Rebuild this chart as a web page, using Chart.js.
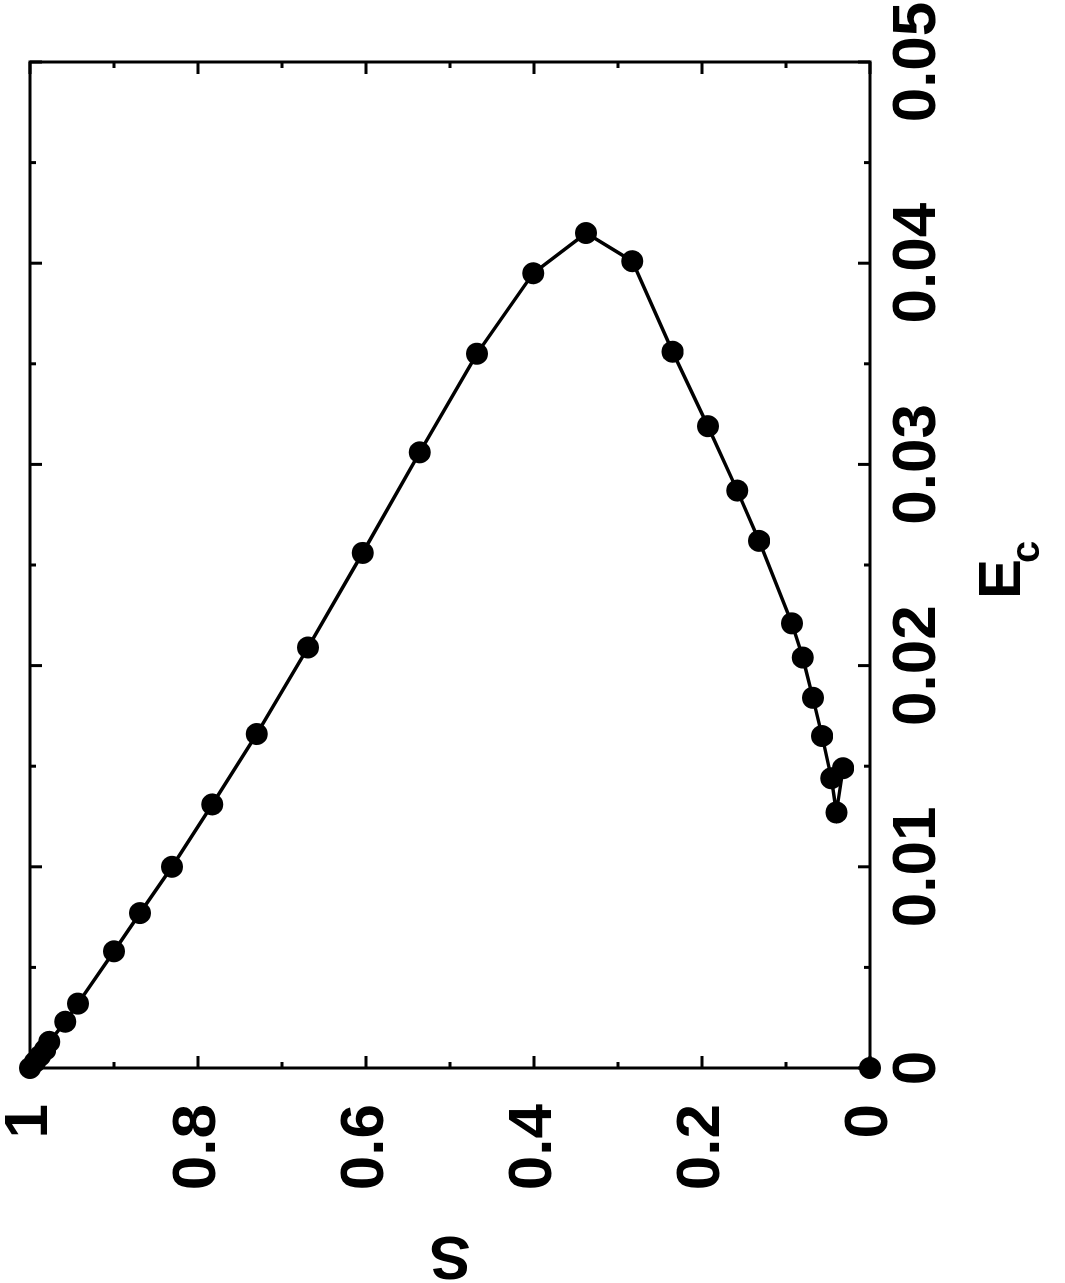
<!DOCTYPE html>
<html>
<head>
<meta charset="utf-8">
<title>S vs Ec</title>
<script src="https://cdn.jsdelivr.net/npm/chart.js@4.4.1/dist/chart.umd.min.js"></script>
<style>
  html, body { margin: 0; padding: 0; background: #fff; overflow: hidden; }
  /* the plot is drawn upright and then turned a quarter turn to the left */
  #wrap {
    position: absolute; left: 0; top: 0;
    width: 1283px; height: 1065px;
    transform-origin: 0 0;
    transform: translateY(1283px) rotate(-90deg);
  }
</style>
</head>
<body>
<div id="wrap"><canvas id="sChart" width="1283" height="1065"></canvas></div>
<script>
// data: Ec on the x axis, S on the y axis
const ecValues = [0.0000, 0.0003, 0.0006, 0.0009, 0.0013, 0.0023, 0.0032, 0.0058, 0.0077, 0.0100,
                  0.0131, 0.0166, 0.0209, 0.0256, 0.0306, 0.0355, 0.0395, 0.0415, 0.0401, 0.0356,
                  0.0319, 0.0287, 0.0262, 0.0221, 0.0204, 0.0184, 0.0165, 0.0144, 0.0127, 0.0149];
const sValues = [1.000, 0.994, 0.988, 0.982, 0.977, 0.958, 0.943, 0.900, 0.869, 0.831,
                 0.783, 0.730, 0.669, 0.604, 0.536, 0.468, 0.401, 0.338, 0.283, 0.235,
                 0.193, 0.158, 0.132, 0.093, 0.080, 0.068, 0.057, 0.046, 0.040, 0.032];

// lone point at the origin (not joined to the curve)
const originEc = [0];
const originS = [0];

// ticks
const ecTicks = [0, 0.01, 0.02, 0.03, 0.04, 0.05];
const ecTickLabels = ["0", "0.01", "0.02", "0.03", "0.04", "0.05"];
const ecMinorTicks = [0.005, 0.015, 0.025, 0.035, 0.045];
const sTicks = [0, 0.2, 0.4, 0.6, 0.8, 1];
const sTickLabels = ["0", "0.2", "0.4", "0.6", "0.8", "1"];
const sMinorTicks = [0.1, 0.3, 0.5, 0.7, 0.9];

const FONT = '"Liberation Sans Narrow", "Liberation Sans", Arial, sans-serif';

// gnuplot style box with inward ticks, plus the axis titles
const framePlugin = {
  id: "gnuplotFrame",
  afterDatasetsDraw(chart) {
    const ctx = chart.ctx;
    const a = chart.chartArea;
    const xs = chart.scales.x;
    const ys = chart.scales.y;
    ctx.save();
    ctx.strokeStyle = "#000";
    ctx.lineWidth = 3;
    ctx.strokeRect(a.left, a.top, a.right - a.left, a.bottom - a.top);

    function xTick(v, len) {
      const px = xs.getPixelForValue(v);
      ctx.beginPath();
      ctx.moveTo(px, a.bottom); ctx.lineTo(px, a.bottom - len);
      ctx.moveTo(px, a.top); ctx.lineTo(px, a.top + len);
      ctx.stroke();
    }
    function yTick(v, len) {
      const py = ys.getPixelForValue(v);
      ctx.beginPath();
      ctx.moveTo(a.left, py); ctx.lineTo(a.left + len, py);
      ctx.moveTo(a.right, py); ctx.lineTo(a.right - len, py);
      ctx.stroke();
    }
    ecTicks.forEach((v) => xTick(v, 12));
    ecMinorTicks.forEach((v) => xTick(v, 6));
    sTicks.forEach((v) => yTick(v, 12));
    sMinorTicks.forEach((v) => yTick(v, 6));

    // x title: E with subscript c
    ctx.fillStyle = "#000";
    ctx.textBaseline = "alphabetic";
    ctx.textAlign = "left";
    const cx = (a.left + a.right) / 2;
    ctx.font = "bold 60px " + FONT;
    ctx.fillText("E", cx - 34, a.bottom + 150);
    ctx.font = "bold 40px " + FONT;
    ctx.fillText("c", cx + 2, a.bottom + 169);

    // y title
    ctx.save();
    ctx.translate(46, (a.top + a.bottom) / 2);
    ctx.rotate(-Math.PI / 2);
    ctx.textAlign = "center";
    ctx.font = "bold 62px " + FONT;
    ctx.fillText("S", 0, 0);
    ctx.restore();

    ctx.restore();
  },
};

const curve = ecValues.map((e, i) => ({ x: e, y: sValues[i] }));
const origin = originEc.map((e, i) => ({ x: e, y: originS[i] }));

const ctx = document.getElementById("sChart").getContext("2d");

new Chart(ctx, {
  type: "scatter",
  data: {
    datasets: [
      {
        label: "S",
        data: curve,
        showLine: true,
        borderColor: "#000",
        borderWidth: 3.5,
        backgroundColor: "#000",
        pointBackgroundColor: "#000",
        pointBorderWidth: 0,
        pointRadius: 11,
        clip: false,
      },
      {
        label: "origin",
        data: origin,
        showLine: false,
        backgroundColor: "#000",
        pointBackgroundColor: "#000",
        pointBorderWidth: 0,
        pointRadius: 11,
        clip: false,
      },
    ],
  },
  options: {
    responsive: false,
    animation: false,
    devicePixelRatio: 1,
    layout: {
      padding: { left: 0, top: 30, right: 62, bottom: 0 },
    },
    plugins: {
      legend: { display: false },
      tooltip: { enabled: false },
    },
    scales: {
      x: {
        type: "linear",
        position: "bottom",
        min: 0,
        max: 0.05,
        grid: { display: false, drawTicks: false },
        border: { display: false },
        afterBuildTicks: (s) => {
          s.ticks = ecTicks.map((v) => ({ value: v }));
        },
        afterFit: (s) => {
          s.height = 195;
          s.paddingLeft = 0;
          s.paddingRight = 0;
        },
        ticks: {
          autoSkip: false,
          maxRotation: 0,
          minRotation: 0,
          padding: 17,
          color: "#000",
          font: { family: FONT, size: 62, weight: "bold", lineHeight: 1 },
          callback: (v, i) => ecTickLabels[i],
        },
      },
      y: {
        type: "linear",
        position: "left",
        min: 0,
        max: 1,
        grid: { display: false, drawTicks: false },
        border: { display: false },
        afterBuildTicks: (s) => {
          s.ticks = sTicks.map((v) => ({ value: v }));
        },
        afterFit: (s) => {
          s.width = 215;
          s.paddingTop = 0;
          s.paddingBottom = 0;
        },
        ticks: {
          autoSkip: false,
          padding: 36,
          color: "#000",
          font: { family: FONT, size: 62, weight: "bold", lineHeight: 1 },
          callback: (v, i) => sTickLabels[i],
        },
      },
    },
  },
  plugins: [framePlugin],
});
</script>
</body>
</html>
